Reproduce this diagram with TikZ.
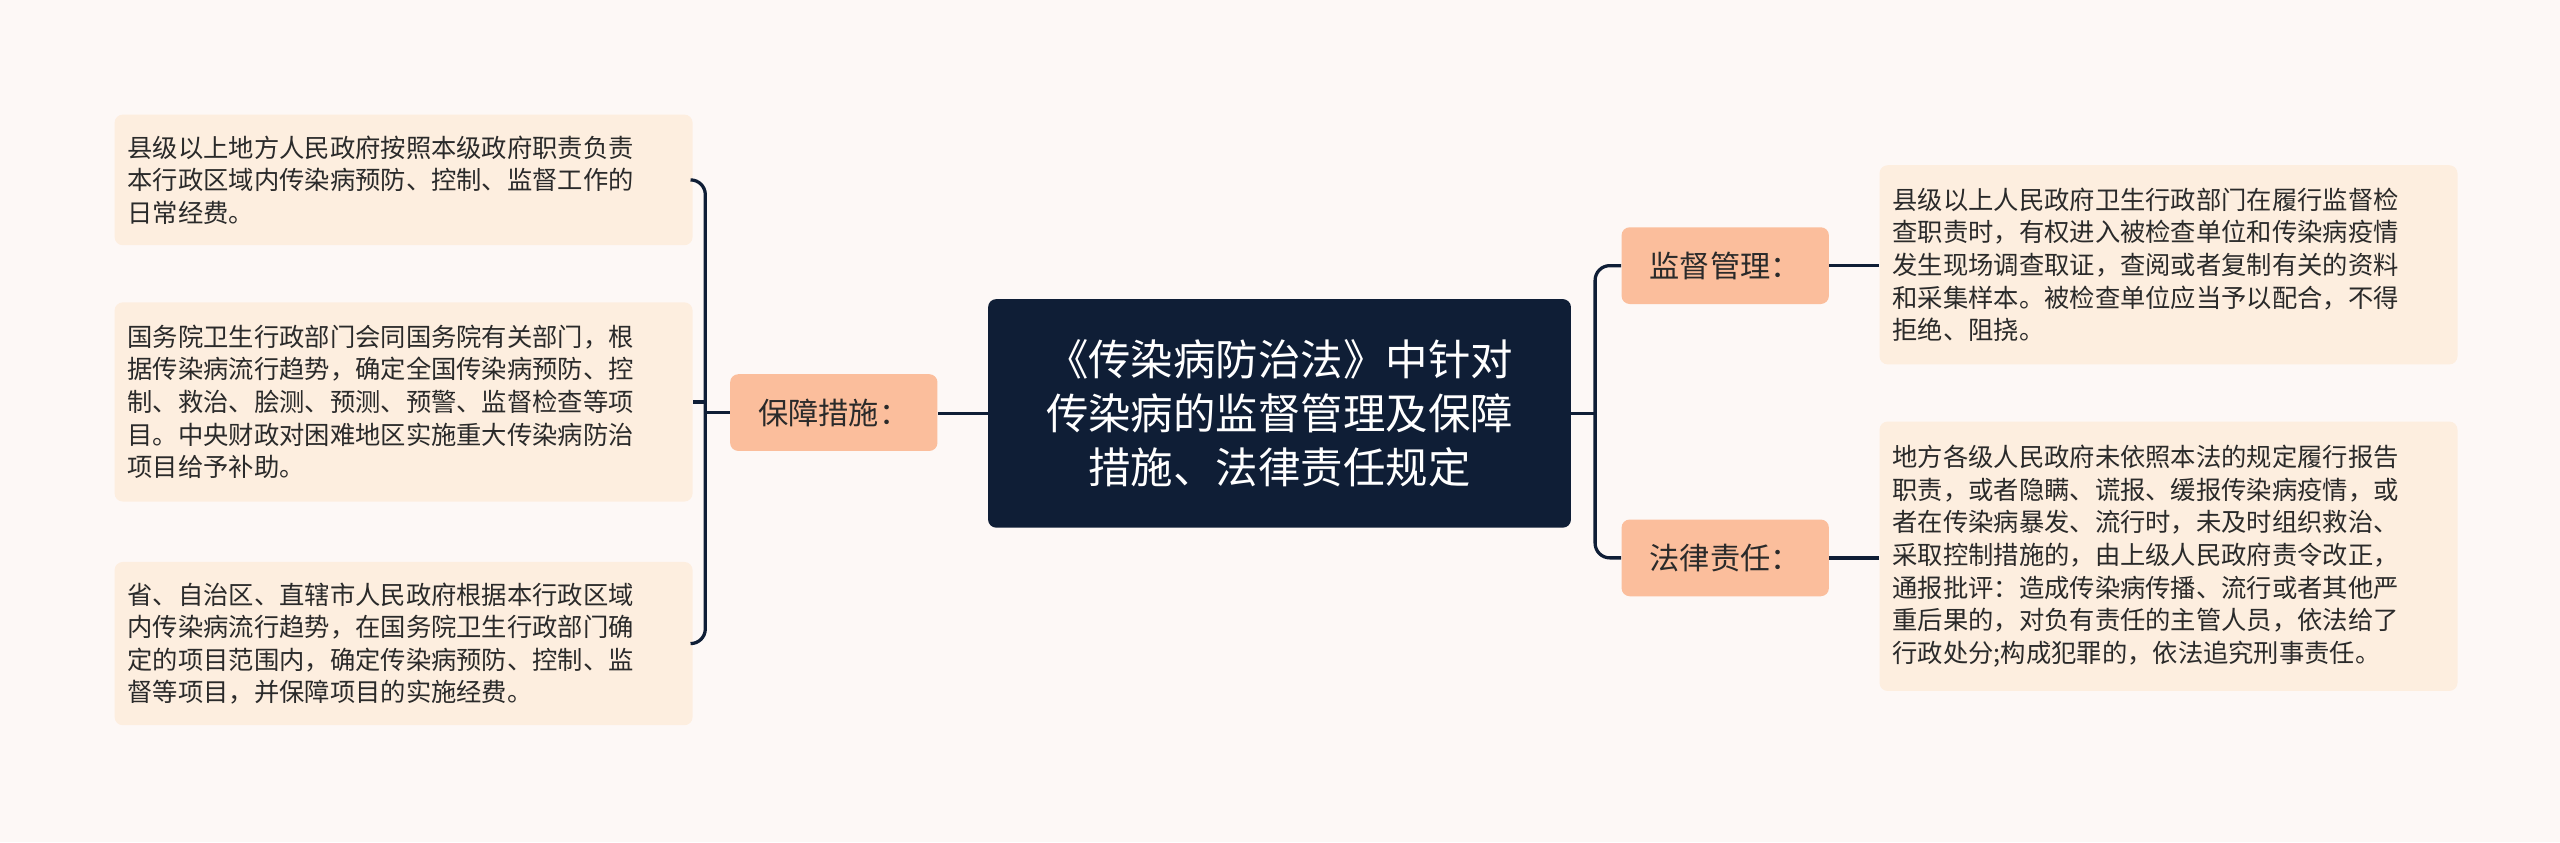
\documentclass[tikz,border=0pt]{standalone}
\usepackage{fontspec}
\setmainfont{Noto Sans CJK SC}
\begin{document}
\begin{tikzpicture}[x=1pt,y=1pt,
  leaf/.style={fill=leafc,rounded corners=5pt,text width=338pt,align=left,inner sep=8pt,font=\fontsize{15.5}{20}\selectfont,text=txt,anchor=north west},
  mid/.style={fill=midc,rounded corners=5pt,minimum width=127pt,minimum height=47pt,font=\fontsize{18.5}{22}\selectfont,text=txt,anchor=north west},
  con/.style={draw=navy,line width=2pt,rounded corners=9pt}]
\definecolor{bg}{HTML}{FDF8F6}
\definecolor{leafc}{HTML}{FDEEDF}
\definecolor{midc}{HTML}{FBBE9C}
\definecolor{navy}{HTML}{0F1E36}
\definecolor{txt}{HTML}{2A2A2A}
\fill[bg] (0,0) rectangle (1568,-516);
\useasboundingbox (0,0) rectangle (1568,-516);
\node[fill=navy,rounded corners=5pt,minimum width=357pt,minimum height=140pt,align=center,text=white,font=\fontsize{26}{33}\selectfont,anchor=north west] (c) at (605,-183) {《传染病防治法》中针对\\传染病的监督管理及保障\\措施、法律责任规定};
\node[mid] (b) at (447,-229) {保障措施：};
\node[mid] (j) at (993,-139) {监督管理：};
\node[mid] (f) at (993,-318) {法律责任：};
\node[leaf,minimum height=80pt] (l1) at (70,-70) {县级以上地方人民政府按照本级政府职责负责\\本行政区域内传染病预防、控制、监督工作的\\日常经费。};
\node[leaf,minimum height=122pt] (l2) at (70,-185) {国务院卫生行政部门会同国务院有关部门，根\\据传染病流行趋势，确定全国传染病预防、控\\制、救治、脍测、预测、预警、监督检查等项\\目。中央财政对困难地区实施重大传染病防治\\项目给予补助。};
\node[leaf,minimum height=100pt] (l3) at (70,-344) {省、自治区、直辖市人民政府根据本行政区域\\内传染病流行趋势，在国务院卫生行政部门确\\定的项目范围内，确定传染病预防、控制、监\\督等项目，并保障项目的实施经费。};
\node[leaf,minimum height=122pt] (r1) at (1151,-101) {县级以上人民政府卫生行政部门在履行监督检\\查职责时，有权进入被检查单位和传染病疫情\\发生现场调查取证，查阅或者复制有关的资料\\和采集样本。被检查单位应当予以配合，不得\\拒绝、阻挠。};
\node[leaf,minimum height=165pt] (r2) at (1151,-258) {地方各级人民政府未依照本法的规定履行报告\\职责，或者隐瞒、谎报、缓报传染病疫情，或\\者在传染病暴发、流行时，未及时组织救治、\\采取控制措施的，由上级人民政府责令改正，\\通报批评：造成传染病传播、流行或者其他严\\重后果的，对负有责任的主管人员，依法给了\\行政处分;构成犯罪的，依法追究刑事责任。};
\draw[con] (c.west) -- (b.east|-c.west);
\draw[con] (b.west) -- (432,0|-b.west);
\draw[con] (432,0|-l2.east) -- (l2.east);
\draw[con] (l1.east) -- (432,0|-l1.east) -- (432,0|-l3.east) -- (l3.east);
\draw[con] (j.west) -- (977,0|-j.west) -- (977,0|-f.west) -- (f.west);
\draw[con] (c.east) -- (977,0|-c.east);
\draw[con] (j.east) -- (r1.west|-j.east);
\draw[con] (f.east) -- (r2.west|-f.east);
\end{tikzpicture}
\end{document}
